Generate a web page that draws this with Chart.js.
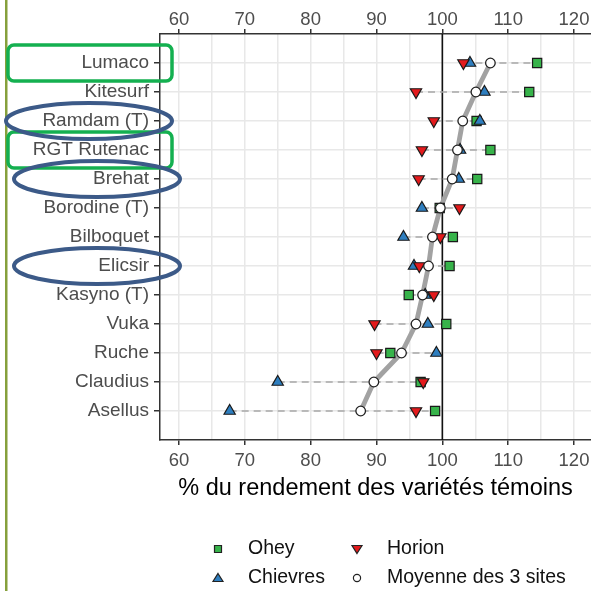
<!DOCTYPE html>
<html lang="fr">
<head>
<meta charset="UTF-8">
<title>Rendement des variétés</title>
<script src="https://cdn.jsdelivr.net/npm/chart.js@4.4.1/dist/chart.umd.min.js"></script>
<style>
    html, body { margin: 0; padding: 0; background: #fff; }
    #wrap { position: relative; width: 591px; height: 591px; }
</style>
</head>
<body>
<div id="wrap">
    <canvas id="chart" width="591" height="591"></canvas>
</div>
<script>
// varieties, top to bottom
const varieties = ['Lumaco', 'Kitesurf', 'Ramdam (T)', 'RGT Rutenac', 'Brehat', 'Borodine (T)',
    'Bilboquet', 'Elicsir', 'Kasyno (T)', 'Vuka', 'Ruche', 'Claudius', 'Asellus'];

// % of the control varieties yield, per site
const ohey     = [114.4, 113.2, 105.2, 107.3, 105.3, 99.6, 101.6, 101.1, 94.9, 100.6, 92.1, 96.7, 98.9];
const chievres = [104.2, 106.4, 105.7, 102.7, 102.5, 96.9, 94.1, 95.7, 97.4, 97.8, 99.1, 75.0, 67.7];
const horion   = [103.2, 96.0, 98.7, 96.9, 96.4, 102.6, 99.7, 96.5, 98.7, 89.7, 90.0, 97.1, 96.0];
const moyenne  = [107.3, 105.1, 103.1, 102.3, 101.5, 99.7, 98.5, 97.9, 97.0, 96.0, 93.8, 89.6, 87.6];

const xGrid = [60, 65, 70, 75, 80, 85, 90, 95, 100, 105, 110, 115, 120];
const xTickLabels = [60, 70, 80, 90, 100, 110, 120];
const refValue = 100;

// highlighted varieties
const greenBoxes = ['Lumaco', 'RGT Rutenac'];
const blueRings = ['Ramdam (T)', 'Brehat', 'Elicsir'];

const rowY = i => varieties.length - i;
const pts = arr => arr.map((v, i) => ({ x: v, y: rowY(i) }));

// dashed range line for each variety
const rangeSets = varieties.map((name, i) => {
    const vals = [ohey[i], chievres[i], horion[i]];
    return {
        type: 'line',
        data: [{ x: Math.min(...vals), y: rowY(i) }, { x: Math.max(...vals), y: rowY(i) }],
        borderColor: '#a8a8a8',
        borderWidth: 1.3,
        borderDash: [7, 5],
        pointRadius: 0,
        order: 10
    };
});

const FONT = 'Liberation Sans, Arial, sans-serif';

const decor = {
    id: 'decor',
    beforeDraw(chart) {
        const ctx = chart.ctx;
        ctx.save();
        ctx.fillStyle = '#86a03c';
        ctx.fillRect(5, 0, 2.5, chart.height);
        ctx.restore();
    },
    beforeDatasetsDraw(chart) {
        const { ctx, chartArea } = chart;
        const x = chart.scales.x.getPixelForValue(refValue);
        ctx.save();
        ctx.strokeStyle = '#111';
        ctx.lineWidth = 1.6;
        ctx.beginPath();
        ctx.moveTo(x, chartArea.top);
        ctx.lineTo(x, chartArea.bottom);
        ctx.stroke();
        ctx.restore();
    },
    afterDraw(chart) {
        const ctx = chart.ctx;
        const ys = chart.scales.y;
        ctx.save();
        // green boxes
        ctx.strokeStyle = '#14b050';
        ctx.lineWidth = 3.5;
        greenBoxes.forEach(name => {
            const cy = ys.getPixelForValue(rowY(varieties.indexOf(name)));
            ctx.beginPath();
            ctx.roundRect(8, cy - 18, 164, 36, 6);
            ctx.stroke();
        });
        // blue ellipses
        ctx.strokeStyle = '#3c5a88';
        ctx.lineWidth = 4;
        blueRings.forEach((name, k) => {
            const cy = ys.getPixelForValue(rowY(varieties.indexOf(name)));
            const cx = k === 0 ? 89 : 97;
            ctx.beginPath();
            ctx.ellipse(cx, cy, 83, 18, 0, 0, Math.PI * 2);
            ctx.stroke();
        });

        // legend
        const items = [
            { label: 'Ohey', shape: 'rect', fill: '#37b34a', col: 0, row: 0 },
            { label: 'Horion', shape: 'down', fill: '#e31a1c', col: 1, row: 0 },
            { label: 'Chievres', shape: 'up', fill: '#2e7ebf', col: 0, row: 1 },
            { label: 'Moyenne des 3 sites', shape: 'circle', fill: '#fff', col: 1, row: 1 }
        ];
        ctx.font = '19.5px ' + FONT;
        ctx.textBaseline = 'middle';
        ctx.textAlign = 'left';
        items.forEach(it => {
            const sx = it.col === 0 ? 218 : 357;
            const sy = it.row === 0 ? 549 : 578;
            ctx.fillStyle = it.fill;
            ctx.strokeStyle = '#222';
            ctx.lineWidth = 1.2;
            ctx.beginPath();
            if (it.shape === 'rect') {
                ctx.rect(sx - 3.5, sy - 3.5, 7, 7);
            } else if (it.shape === 'up') {
                ctx.moveTo(sx, sy - 4.5); ctx.lineTo(sx + 5, sy + 3.5); ctx.lineTo(sx - 5, sy + 3.5); ctx.closePath();
            } else if (it.shape === 'down') {
                ctx.moveTo(sx, sy + 4.5); ctx.lineTo(sx + 5, sy - 3.5); ctx.lineTo(sx - 5, sy - 3.5); ctx.closePath();
            } else {
                ctx.arc(sx, sy, 3.6, 0, Math.PI * 2);
            }
            ctx.fill();
            ctx.stroke();
            ctx.fillStyle = '#111';
            ctx.fillText(it.label, sx + 30, sy);
        });
        ctx.restore();
    }
};

const xFont = { family: FONT, size: 18.5 };
const yFont = { family: FONT, size: 19 };
const noSidePad = s => { s.paddingLeft = 0; s.paddingRight = 0; };

new Chart(document.getElementById('chart'), {
    type: 'scatter',
    data: {
        datasets: [
            ...rangeSets,
            {
                type: 'line',
                label: 'mean path',
                data: pts(moyenne),
                borderColor: '#a2a2a2',
                borderWidth: 4.8,
                borderCapStyle: 'round',
                borderJoinStyle: 'round',
                pointRadius: 0,
                order: 9
            },
            {
                label: 'Ohey', data: pts(ohey), pointStyle: 'rect', pointRadius: 6.5,
                backgroundColor: '#37b34a', borderColor: '#1a1a1a', borderWidth: 1.2, order: 4
            },
            {
                label: 'Chievres', data: pts(chievres), pointStyle: 'triangle', pointRadius: 6.5,
                backgroundColor: '#2e7ebf', borderColor: '#1a1a1a', borderWidth: 1.2, order: 3
            },
            {
                label: 'Horion', data: pts(horion), pointStyle: 'triangle', rotation: 180, pointRadius: 6.5,
                backgroundColor: '#e31a1c', borderColor: '#1a1a1a', borderWidth: 1.2, order: 2
            },
            {
                label: 'Moyenne des 3 sites', data: pts(moyenne), pointStyle: 'circle', pointRadius: 4.8,
                backgroundColor: '#ffffff', borderColor: '#222', borderWidth: 1.3, order: 1
            }
        ]
    },
    options: {
        responsive: false,
        animation: false,
        layout: { autoPadding: false, padding: { left: 0, right: 0, top: 0, bottom: 89 } },
        plugins: { legend: { display: false }, tooltip: { enabled: false } },
        scales: {
            x: {
                type: 'linear',
                position: 'bottom',
                min: 57.12,
                max: 122.58,
                afterBuildTicks: s => { s.ticks = xGrid.map(v => ({ value: v })); },
                afterFit: s => { s.height = 62; noSidePad(s); },
                ticks: {
                    autoSkip: false,
                    maxRotation: 0,
                    padding: 5,
                    color: '#4d4d4d',
                    font: xFont,
                    callback: v => xTickLabels.includes(v) ? String(v) : ''
                },
                grid: {
                    color: '#e8e8e8',
                    lineWidth: 1.5,
                    tickLength: 5,
                    tickColor: c => xTickLabels.includes(c.tick.value) ? '#333' : 'rgba(0,0,0,0)'
                },
                border: { display: true, color: '#333', width: 1.5 },
                title: {
                    display: true,
                    text: '% du rendement des variétés témoins',
                    color: '#000',
                    font: { family: FONT, size: 23.5 },
                    padding: { top: 0, bottom: -1 }
                }
            },
            x2: {
                type: 'linear',
                position: 'top',
                min: 57.12,
                max: 122.58,
                afterBuildTicks: s => { s.ticks = xGrid.map(v => ({ value: v })); },
                afterFit: s => { s.height = 34; noSidePad(s); },
                ticks: {
                    autoSkip: false,
                    maxRotation: 0,
                    padding: -2,
                    color: '#4d4d4d',
                    font: xFont,
                    callback: v => xTickLabels.includes(v) ? String(v) : ''
                },
                grid: {
                    drawOnChartArea: false,
                    tickLength: 5,
                    lineWidth: 1.5,
                    tickColor: c => xTickLabels.includes(c.tick.value) ? '#333' : 'rgba(0,0,0,0)'
                },
                border: { display: true, color: '#333', width: 1.5 }
            },
            y: {
                type: 'linear',
                min: 0,
                max: 14,
                afterBuildTicks: s => { s.ticks = varieties.map((n, i) => ({ value: rowY(i) })); },
                afterFit: s => { s.width = 160; },
                ticks: {
                    autoSkip: false,
                    padding: 5,
                    color: '#4d4d4d',
                    font: yFont,
                    callback: v => varieties[varieties.length - v] || ''
                },
                grid: {
                    color: '#e8e8e8',
                    lineWidth: 1.5,
                    tickLength: 6,
                    tickColor: '#333'
                },
                border: { display: true, color: '#333', width: 1.5 }
            }
        }
    },
    plugins: [decor]
});
</script>
</body>
</html>
